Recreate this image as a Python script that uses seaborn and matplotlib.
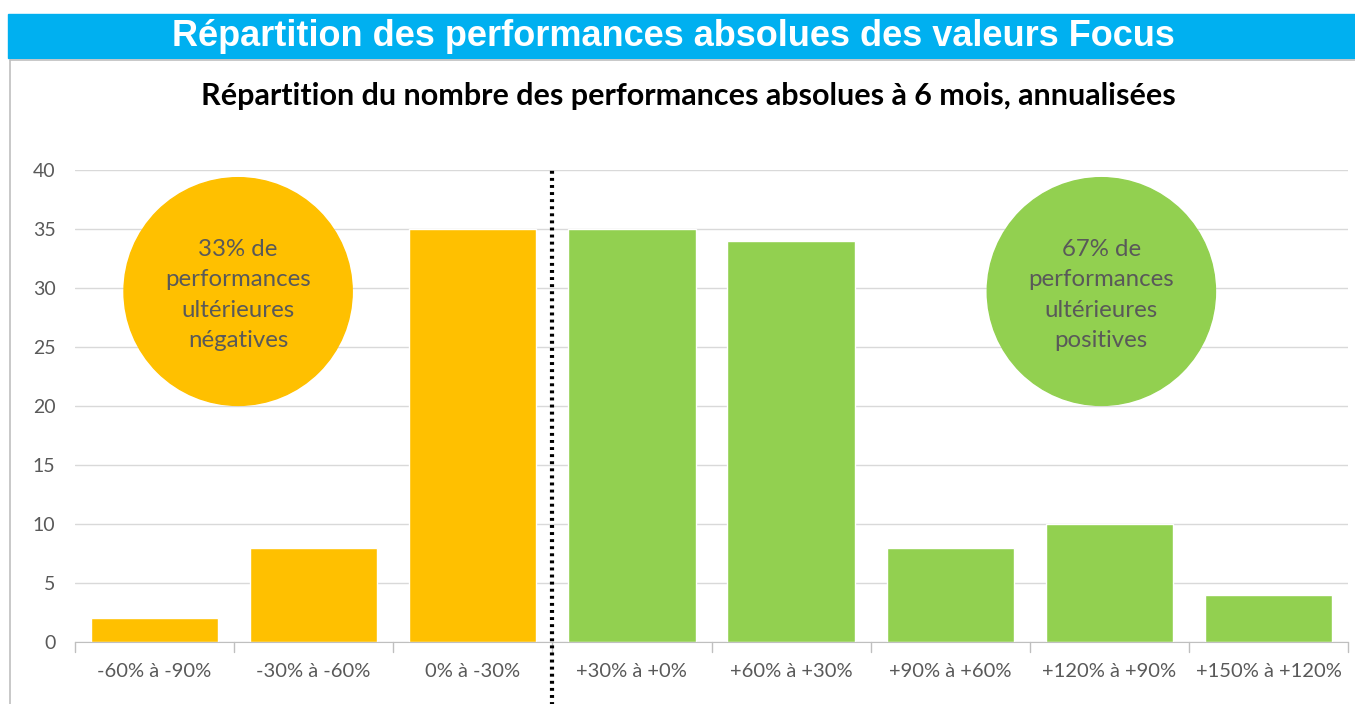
import numpy as np
import pandas as pd
import matplotlib.pyplot as plt
import seaborn as sns
from matplotlib.patches import Ellipse, Rectangle

# Data
categories = ['-60% à -90%', '-30% à -60%', '0% à -30%', '+30% à +0%',
              '+60% à +30%', '+90% à +60%', '+120% à +90%', '+150% à +120%']
counts = [2, 8, 35, 35, 34, 8, 10, 4]
groups = ['neg', 'neg', 'neg', 'pos', 'pos', 'pos', 'pos', 'pos']
group_colors = {'neg': '#FFC000', 'pos': '#92D050'}
circle_texts = ['33% de\nperformances\nultérieures\nnégatives',
                '67% de\nperformances\nultérieures\npositives']

df = pd.DataFrame({'cat': categories, 'n': counts, 'grp': groups})

sns.set_style('white')
plt.rcParams['font.family'] = ['Lato', 'DejaVu Sans']

fig = plt.figure(figsize=(13.55, 7.04), dpi=100)

# Blue banner with main title
fig.patches.append(Rectangle((8 / 1355, 1 - 58 / 704), 1, 44 / 704,
                             transform=fig.transFigure, color='#00B0F0', zorder=0))
fig.text(0.497, 1 - 37 / 704, 'Répartition des performances absolues des valeurs Focus',
         ha='center', va='center', color='white', fontsize=26, fontweight='heavy',
         family='Liberation Sans')

# Grey frame of the chart area
fig.add_artist(plt.Line2D([10 / 1355, 10 / 1355], [0, 1 - 60 / 704],
                          transform=fig.transFigure, color='#BFBFBF', lw=1.2))
fig.add_artist(plt.Line2D([10 / 1355, 1], [1 - 60 / 704, 1 - 60 / 704],
                          transform=fig.transFigure, color='#BFBFBF', lw=1.2))

fig.text(0.508, 1 - 96 / 704,
         'Répartition du nombre des performances absolues à 6 mois, annualisées',
         ha='center', va='center', fontsize=22, fontweight='bold', color='black')

ax = fig.add_axes([75 / 1355, 62 / 704, (1348 - 75) / 1355, (642 - 170) / 704])
sns.barplot(data=df, x='cat', y='n', hue='grp', palette=group_colors,
            dodge=False, legend=False, width=0.8, ax=ax, saturation=1)

ax.set_ylim(0, 40)
ax.set_xlim(-0.5, len(categories) - 0.5)
ax.set_yticks(range(0, 41, 5))
ax.yaxis.grid(True, color='#D9D9D9', lw=1)
ax.set_axisbelow(True)
ax.set_xlabel('')
ax.set_ylabel('')
for s in ['top', 'right', 'left']:
    ax.spines[s].set_visible(False)
ax.spines['bottom'].set_color('#BFBFBF')
ax.tick_params(axis='y', length=0, labelsize=14, labelcolor='#595959', pad=14)
ax.set_xticks(np.arange(len(categories)))
ax.set_xticklabels(categories)
ax.tick_params(axis='x', length=0, labelsize=14.5, labelcolor='#595959', pad=15)
# category boundary tick marks
for b in np.arange(-0.5, len(categories), 1.0):
    ax.plot([b, b], [0, -0.85], color='#BFBFBF', lw=1, clip_on=False)

# Dotted separator between negative and positive
ax.axvline(2.5, ymin=-0.14, ymax=1, color='black', lw=3,
           linestyle=(0, (0.7, 1.0)), clip_on=False, zorder=5)

# Summary circles
for cx, color, txt in [(0.525, '#FFC000', circle_texts[0]),
                       (5.95, '#92D050', circle_texts[1])]:
    ax.add_patch(Ellipse((cx, 29.7), 1.434, 19.3, color=color, zorder=4))
    ax.text(cx, 29.4, txt, ha='center', va='center', fontsize=17.3,
            color='#595959', linespacing=1.55, zorder=6)

fig.savefig('out.png', dpi=100)
